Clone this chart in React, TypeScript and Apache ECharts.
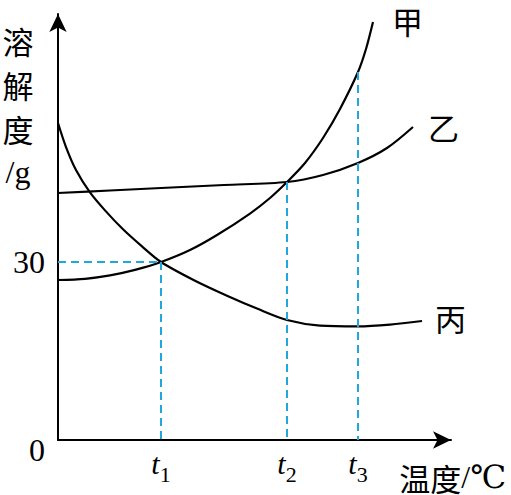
import React, { useEffect, useRef } from 'react';
import * as echarts from 'echarts';

// Series names
const seriesNames = ['甲', '乙', '丙'];

// 甲: temperature (arbitrary units) and solubility (g)
const jiaTemp = [0, 27, 52, 77, 103, 132, 159, 192, 212, 229, 247, 265, 282, 300, 308, 315];
const jiaSol = [26.97, 27.17, 27.74, 28.67, 30.0, 32.02, 34.55, 38.17, 40.79, 43.48, 46.69, 50.9, 55.79, 62.02, 65.9, 70.45];

// 乙
const yiTemp = [0, 52, 103, 166, 229, 265, 300, 329, 355];
const yiSol = [41.63, 42.05, 42.47, 42.98, 43.48, 44.66, 46.69, 49.21, 52.75];

// 丙
const bingTemp = [0, 8, 18, 32, 47, 65, 84, 103, 136, 169, 199, 229, 262, 300, 332, 364];
const bingSol = [53.43, 49.38, 45.51, 41.73, 38.7, 35.51, 32.63, 30.0, 26.93, 24.32, 22.15, 20.22, 19.28, 19.15, 19.45, 20.06];

// Key temperatures t1, t2, t3 and the solubility read at each
const keyTemps = [103, 229, 300];
const keySubs = ['1', '2', '3'];
const keySols = [30, 43.48, 62.02];

// Y tick labels
const yTicks = [0, 30];

const X_MAX = 393;
const Y_MAX = 71.8;

const CJK = '"Noto Sans CJK SC", sans-serif';
const SERIF = '"Liberation Serif", "DejaVu Serif", serif';

export default function App() {
  const ref = useRef<HTMLDivElement>(null);

  useEffect(() => {
    document.body.style.margin = '0';
    const chart = echarts.init(ref.current!, null, { renderer: 'svg' });

    const toPairs = (xs: number[], ys: number[]) => xs.map((x, i) => [x, ys[i]]);

    const endOffsets: [number, number][] = [[19, -2], [15, -1], [13, -3]];
    const datasets = [toPairs(jiaTemp, jiaSol), toPairs(yiTemp, yiSol), toPairs(bingTemp, bingSol)];

    const dashColor = '#22a7dc';
    const markData: any[] = [
      [{ coord: [0, keySols[0]] }, { coord: [keyTemps[0], keySols[0]] }],
      ...keyTemps.map((t, i) => [{ coord: [t, keySols[i]] }, { coord: [t, 0] }]),
    ];

    const series: any[] = datasets.map((d, i) => ({
      name: seriesNames[i],
      type: 'line',
      data: d,
      smooth: 0.3,
      symbol: 'none',
      showSymbol: false,
      lineStyle: { color: '#000', width: 2.2 },
      endLabel: {
        show: true,
        formatter: '{a}',
        color: '#000',
        fontFamily: CJK,
        fontSize: 31,
        distance: 0,
        offset: endOffsets[i],
      },
      z: 2,
    }));

    series[0].markLine = {
      silent: true,
      symbol: ['none', 'none'],
      label: { show: false },
      lineStyle: { color: dashColor, width: 2, type: [8, 5] },
      data: markData,
      z: 5,
    };

    chart.setOption({
      animation: false,
      backgroundColor: '#fff',
      grid: { left: 58, right: 60, top: 14, bottom: 55, containLabel: false, outerBoundsMode: 'none' },
      xAxis: {
        type: 'value',
        min: 0,
        max: X_MAX,
        splitLine: { show: false },
        axisTick: { show: false },
        axisLine: {
          show: true,
          lineStyle: { color: '#000', width: 2 },
          symbol: ['none', 'arrow'],
          symbolSize: [13, 18],
        },
        axisLabel: {
          customValues: keyTemps,
          margin: 1,
          formatter: (v: number) => `{t|t}{s|${keySubs[keyTemps.indexOf(v)]}}`,
          rich: {
            t: { fontFamily: SERIF, fontStyle: 'italic', fontSize: 30, lineHeight: 44, color: '#000' },
            s: { fontFamily: SERIF, fontSize: 22, lineHeight: 18, verticalAlign: 'bottom', color: '#000' },
          },
        },
        name: '{c|温度}{l|/℃}',
        nameLocation: 'end',
        nameGap: 55,
        nameMoveOverlap: false,
        nameTextStyle: {
          align: 'right',
          verticalAlign: 'top',
          padding: [21, 0, 0, 0],
          rich: {
            c: { fontFamily: CJK, fontSize: 31, color: '#000' },
            l: { fontFamily: SERIF, fontSize: 32, color: '#000' },
          },
        },
      },
      yAxis: {
        type: 'value',
        min: 0,
        max: Y_MAX,
        splitLine: { show: false },
        axisTick: { show: false },
        axisLine: {
          show: true,
          lineStyle: { color: '#000', width: 2 },
          symbol: ['none', 'arrow'],
          symbolSize: [13, 18],
        },
        axisLabel: {
          customValues: yTicks,
          margin: 13,
          formatter: (v: number) => (v === 0 ? '{n| }\n{n|0}' : `{n|${v}}`),
          rich: {
            n: { fontFamily: SERIF, fontSize: 32, lineHeight: 20, color: '#000' },
          },
        },
        name: '{c|溶}\n{c|解}\n{c|度}\n{l|/g}',
        nameLocation: 'end',
        nameGap: -4,
        nameMoveOverlap: false,
        nameTextStyle: {
          align: 'center',
          verticalAlign: 'top',
          padding: [0, 80, 0, 0],
          rich: {
            c: { fontFamily: CJK, fontSize: 31, lineHeight: 44, color: '#000' },
            l: { fontFamily: SERIF, fontSize: 32, lineHeight: 44, color: '#000' },
          },
        },
      },
      series,
    });

    return () => chart.dispose();
  }, []);

  return <div ref={ref} style={{ width: 511, height: 495 }} />;
}
